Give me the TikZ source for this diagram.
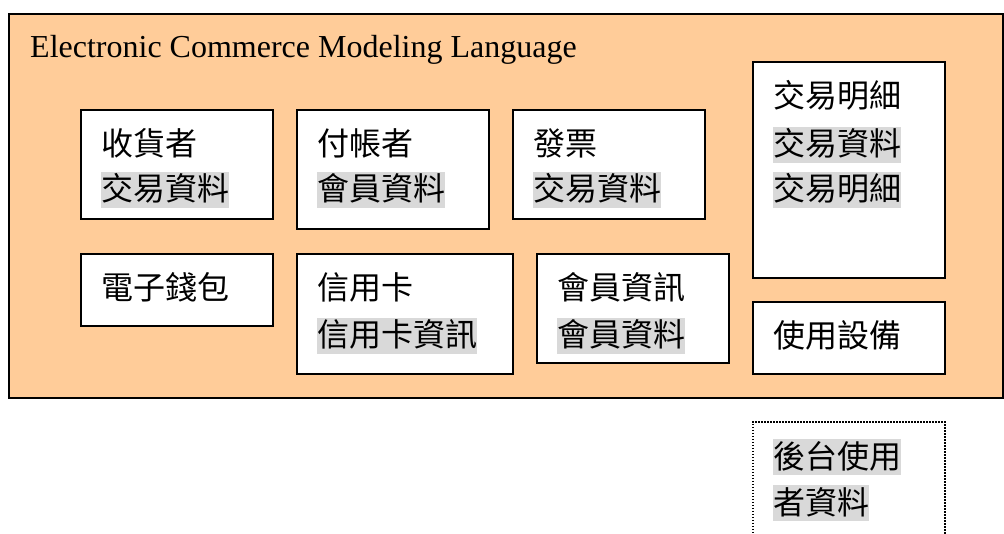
\documentclass[tikz,border=0pt]{standalone}
\usepackage{fontspec}
\setmainfont{Liberation Serif}
\newfontfamily\cjk{Noto Sans CJK TC}
\definecolor{peach}{HTML}{FFCC99}
\definecolor{shade}{HTML}{D9D9D9}
\begin{document}
\begin{tikzpicture}[x=1pt,y=-1pt,
    panel/.style={draw,fill=white,line width=2pt,anchor=north west,inner sep=0pt},
    word/.style={anchor=west,inner sep=0pt,font=\cjk\fontsize{32}{32}\selectfont,
        text height=27pt,text depth=5pt},
    datum/.style={word,fill=shade,minimum height=36pt}]

    \useasboundingbox (0,0) rectangle (1004,534);
    \clip (0,0) rectangle (1004,534);

    % Define container
    \node[panel,fill=peach,minimum width=994pt,minimum height=384pt] (ecml) at (8,13) {};
    \node[anchor=base west,inner sep=0pt,font=\fontsize{32}{32}\selectfont] (title) at (30,58)
        {Electronic Commerce Modeling Language};

    % Define elements
    \node[panel,minimum width=192pt,minimum height=109pt] (shipto) at (80,109) {};
    \node[panel,minimum width=192pt,minimum height=119pt] (billto) at (296,109) {};
    \node[panel,minimum width=192pt,minimum height=109pt] (receipt) at (512,109) {};
    \node[panel,minimum width=192pt,minimum height=216pt] (txdetail) at (752,61) {};
    \node[panel,minimum width=192pt,minimum height=72pt] (wallet) at (80,253) {};
    \node[panel,minimum width=216pt,minimum height=120pt] (card) at (296,253) {};
    \node[panel,minimum width=192pt,minimum height=109pt] (member) at (536,253) {};
    \node[panel,minimum width=192pt,minimum height=72pt] (device) at (752,301) {};
    \node[panel,line width=1.6pt,dash pattern=on 1.6pt off 1.4pt,
        minimum width=192pt,minimum height=160pt] (backend) at (752,421) {};

    % Labels
    \node[word] (shipto1) at (101,145) {收貨者};
    \node[datum] (shipto2) at (101,190) {交易資料};
    \node[word] (billto1) at (317,145) {付帳者};
    \node[datum] (billto2) at (317,190) {會員資料};
    \node[word] (receipt1) at (533,145) {發票};
    \node[datum] (receipt2) at (533,190) {交易資料};
    \node[word] (txdetail1) at (773,97) {交易明細};
    \node[datum] (txdetail2) at (773,145) {交易資料};
    \node[datum] (txdetail3) at (773,190) {交易明細};
    \node[word] (wallet1) at (101,289) {電子錢包};
    \node[word] (card1) at (317,289) {信用卡};
    \node[datum] (card2) at (317,336) {信用卡資訊};
    \node[word] (member1) at (557,289) {會員資訊};
    \node[datum] (member2) at (557,336) {會員資料};
    \node[word] (device1) at (773,337) {使用設備};
    \node[datum] (backend1) at (773,457) {後台使用};
    \node[datum] (backend2) at (773,503) {者資料};

\end{tikzpicture}
\end{document}
